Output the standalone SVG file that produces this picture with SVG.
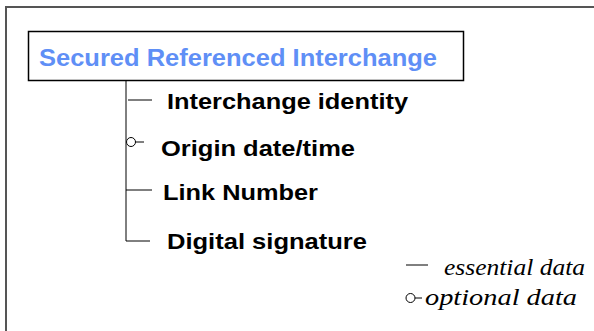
<svg xmlns="http://www.w3.org/2000/svg" width="594" height="331" viewBox="0 0 594 331">
  <style>
    .frame { fill: none; stroke: #555555; stroke-width: 2; }
    .box { fill: #ffffff; stroke: #000000; stroke-width: 1.5; }
    .line { fill: none; stroke: #000000; stroke-width: 1; }
    .ring { fill: #ffffff; stroke: #000000; stroke-width: 1; }
    .title { font-family: "Liberation Sans", Arial, sans-serif; font-weight: bold; font-size: 23px; fill: #5f8ff6; }
    .item { font-family: "Liberation Sans", Arial, sans-serif; font-weight: bold; font-size: 22px; fill: #000000; }
    .legend { font-family: "Liberation Serif", "Times New Roman", serif; font-style: italic; font-size: 23px; fill: #000000; }
  </style>

  <rect width="594" height="331" fill="#ffffff"/>

  <!-- outer frame (open to the right and bottom) -->
  <polyline class="frame" points="6,331 6,7 594,7"/>

  <g id="root">
    <rect class="box" x="28.5" y="31.5" width="435" height="49"/>
    <text class="title" x="39" y="66" textLength="398" lengthAdjust="spacingAndGlyphs">Secured Referenced Interchange</text>
  </g>

  <g id="connectors">
    <polyline class="line" points="126,80 126,241 150,241"/>
    <line class="line" x1="128" y1="100" x2="152" y2="100"/>
    <circle class="ring" cx="131" cy="142" r="4.5"/>
    <line class="line" x1="135.5" y1="142" x2="144" y2="142"/>
    <line class="line" x1="126" y1="190" x2="152" y2="190"/>
  </g>

  <g id="interchange-identity">
    <text class="item" x="167" y="109" textLength="241" lengthAdjust="spacingAndGlyphs">Interchange identity</text>
  </g>
  <g id="origin-date-time">
    <text class="item" x="161" y="156" textLength="194" lengthAdjust="spacingAndGlyphs">Origin date/time</text>
  </g>
  <g id="link-number">
    <text class="item" x="163" y="200" textLength="155" lengthAdjust="spacingAndGlyphs">Link Number</text>
  </g>
  <g id="digital-signature">
    <text class="item" x="167" y="249" textLength="200" lengthAdjust="spacingAndGlyphs">Digital signature</text>
  </g>

  <g id="legend">
    <line class="line" x1="406" y1="265" x2="428" y2="265"/>
    <text class="legend" x="444" y="275" textLength="141" lengthAdjust="spacingAndGlyphs">essential data</text>
    <circle class="ring" cx="410.5" cy="298" r="4.5"/>
    <line class="line" x1="415" y1="298" x2="422" y2="298"/>
    <text class="legend" x="425" y="305" textLength="152" lengthAdjust="spacingAndGlyphs">optional data</text>
  </g>
</svg>
